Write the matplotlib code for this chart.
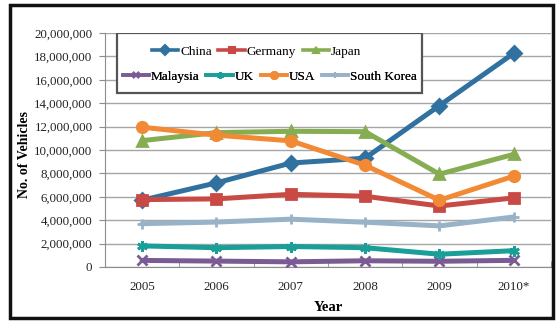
import matplotlib
matplotlib.use("Agg")
import matplotlib.pyplot as plt
from matplotlib.lines import Line2D
from matplotlib.patches import Rectangle
from matplotlib.ticker import FuncFormatter, MultipleLocator

years = ["2005", "2006", "2007", "2008", "2009", "2010*"]

china = [5708421, 7188708, 8882456, 9299180, 13790994, 18264667]
germany = [5757710, 5819614, 6213460, 6045730, 5209857, 5905985]
japan = [10799659, 11484233, 11596327, 11563629, 7934057, 9625940]
malaysia = [563408, 502973, 441678, 530810, 489269, 567715]
uk = [1803109, 1648388, 1750253, 1649515, 1090139, 1393463]
usa = [11946653, 11263986, 10780729, 8693541, 5709431, 7761443]
south_korea = [3699350, 3840102, 4086308, 3826682, 3512926, 4271741]

series = [
    ("China", china, "#31719f", "D"),
    ("Germany", germany, "#c94a45", "s"),
    ("Japan", japan, "#87ad52", "^"),
    ("Malaysia", malaysia, "#7b5b94", "x"),
    ("UK", uk, "#1a9e98", (6, 2, 0)),
    ("USA", usa, "#f28a35", "o"),
    ("South Korea", south_korea, "#98b2c8", "+"),
]

plt.rcParams["font.family"] = ["Liberation Serif", "DejaVu Serif"]

fig = plt.figure(figsize=(5.57, 3.23), dpi=100)
fig.patch.set_facecolor("white")
ax = fig.add_axes([0.1885, 0.1734, 0.8005, 0.7246])

x = list(range(len(years)))
handles = {}
for name, vals, color, marker in series:
    ax.plot(x, vals, color=color, linewidth=3.6, marker=marker,
            markersize=7.5, markeredgewidth=2, markeredgecolor=color,
            markerfacecolor=color, zorder=3, solid_capstyle="round")
    handles[name] = Line2D([], [], color=color, linewidth=2.6, marker=marker,
                           markersize=5, markeredgewidth=1.5,
                           markeredgecolor=color, markerfacecolor=color)

ax.set_xlim(-0.5, len(years) - 0.5)
ax.set_ylim(0, 20000000)
ax.yaxis.set_major_locator(MultipleLocator(2000000))
ax.yaxis.set_major_formatter(FuncFormatter(lambda v, p: f"{int(v):,}"))
ax.set_xticks(x)
ax.set_xticklabels(years)
ax.set_xticks([i + 0.5 for i in x], minor=True)
ax.grid(axis="y", color="#a6a6a6", linewidth=1.0, zorder=0)

for side in ("top", "right"):
    ax.spines[side].set_visible(False)
ax.spines["left"].set_color("#8c8c8c")
ax.spines["bottom"].set_color("#8c8c8c")
ax.tick_params(axis="both", which="both", colors="#8c8c8c", labelcolor="#222222",
               labelsize=9.3, length=4)
ax.tick_params(axis="y", pad=5)
ax.tick_params(axis="x", which="major", length=0, pad=10)
ax.tick_params(axis="x", which="minor", length=4, direction="in")

ax.set_xlabel("Year", fontsize=10.5, fontweight="bold", labelpad=6)
ax.set_ylabel("No. of Vehicles", fontsize=10, fontweight="bold")
ax.yaxis.set_label_coords(-0.165, 0.48)

# legend frame and two centred rows
ax.add_patch(Rectangle((0.027, 0.744), 0.684, 0.256, transform=ax.transAxes,
                       facecolor="white", edgecolor="#555555", linewidth=1.6,
                       zorder=5))
row1 = ["China", "Germany", "Japan"]
row2 = ["Malaysia", "UK", "USA", "South Korea"]
for names, xc, yc in ((row1, 0.34, 0.919), (row2, 0.37, 0.812)):
    leg = ax.legend([handles[n] for n in names], names, loc="center",
                    bbox_to_anchor=(xc, yc), ncol=len(names), frameon=False,
                    fontsize=9.5, handlelength=2.0, handletextpad=0.15,
                    columnspacing=0.5, borderpad=0, borderaxespad=0)
    leg.set_zorder(6)
    ax.add_artist(leg)

# outer border of the figure
fig.add_artist(Rectangle((10 / 557, 5 / 323), 543 / 557, 313 / 323,
                         transform=fig.transFigure, fill=False,
                         edgecolor="#111111", linewidth=2.5))

fig.savefig("out.png", dpi=100)
